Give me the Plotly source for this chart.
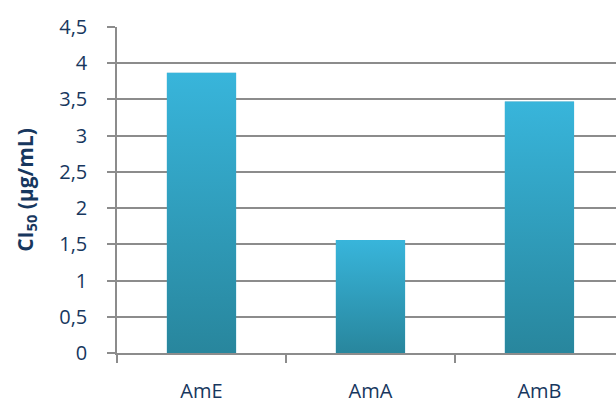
import base64
import plotly.graph_objects as go

categories = ["AmE", "AmA", "AmB"]
ci50_values = [3.87, 1.56, 3.47]
y_tick_values = [0, 0.5, 1, 1.5, 2, 2.5, 3, 3.5, 4, 4.5]
y_tick_labels = ["0", "0,5", "1", "1,5", "2", "2,5", "3", "3,5", "4", "4,5"]

navy = "#17375E"
grid = "#8c8c8c"
bar_width = 0.41

svg = ("<svg xmlns='http://www.w3.org/2000/svg' width='10' height='100' viewBox='0 0 10 100' "
       "preserveAspectRatio='none'><defs><linearGradient id='g' x1='0' y1='0' x2='0' y2='1'>"
       "<stop offset='0' stop-color='#38B5DB'/><stop offset='1' stop-color='#28869D'/>"
       "</linearGradient></defs><rect width='10' height='100' fill='url(#g)'/></svg>")
grad_src = "data:image/svg+xml;base64," + base64.b64encode(svg.encode()).decode()

fig = go.Figure(go.Bar(
    x=categories, y=ci50_values, width=bar_width,
    marker=dict(color="#30A2C4", line=dict(width=0)),
    hoverinfo="skip",
))

images = []
for i, v in enumerate(ci50_values):
    images.append(dict(
        source=grad_src, xref="x", yref="y",
        x=i - bar_width / 2, y=v, sizex=bar_width, sizey=v,
        sizing="stretch", xanchor="left", yanchor="top", layer="above",
    ))

fig.update_layout(
    images=images,
    width=616, height=403,
    margin=dict(l=117, r=0, t=27, b=50, autoexpand=False),
    plot_bgcolor="white", paper_bgcolor="white",
    showlegend=False,
    font=dict(family="Open Sans", size=20, color=navy),
    xaxis=dict(
        range=[-0.5, 2.453],
        showgrid=False, zeroline=False,
        showline=True, linecolor=grid, linewidth=1.5,
        ticks="outside", tickson="boundaries", ticklen=8, tickcolor=grid, tickwidth=1.5,
        ticklabelstandoff=19,
        tickfont=dict(size=20, color=navy),
        automargin=False,
    ),
    yaxis=dict(
        range=[0, 4.5],
        tickvals=y_tick_values, ticktext=y_tick_labels,
        showgrid=True, gridcolor=grid, gridwidth=1.5,
        zeroline=False,
        showline=True, linecolor=grid, linewidth=1.5,
        ticks="outside", ticklen=8, tickcolor=grid, tickwidth=1.5,
        ticklabelstandoff=16,
        tickfont=dict(size=20, color=navy),
        title=dict(text="<b>CI<sub>50</sub> (µg/mL)</b>", font=dict(size=21, color=navy), standoff=20),
        automargin=False,
    ),
)

fig.write_html(
    "out.html",
    config={"displayModeBar": False},
    post_script="document.body.style.margin='0';document.body.style.overflow='hidden';",
)
